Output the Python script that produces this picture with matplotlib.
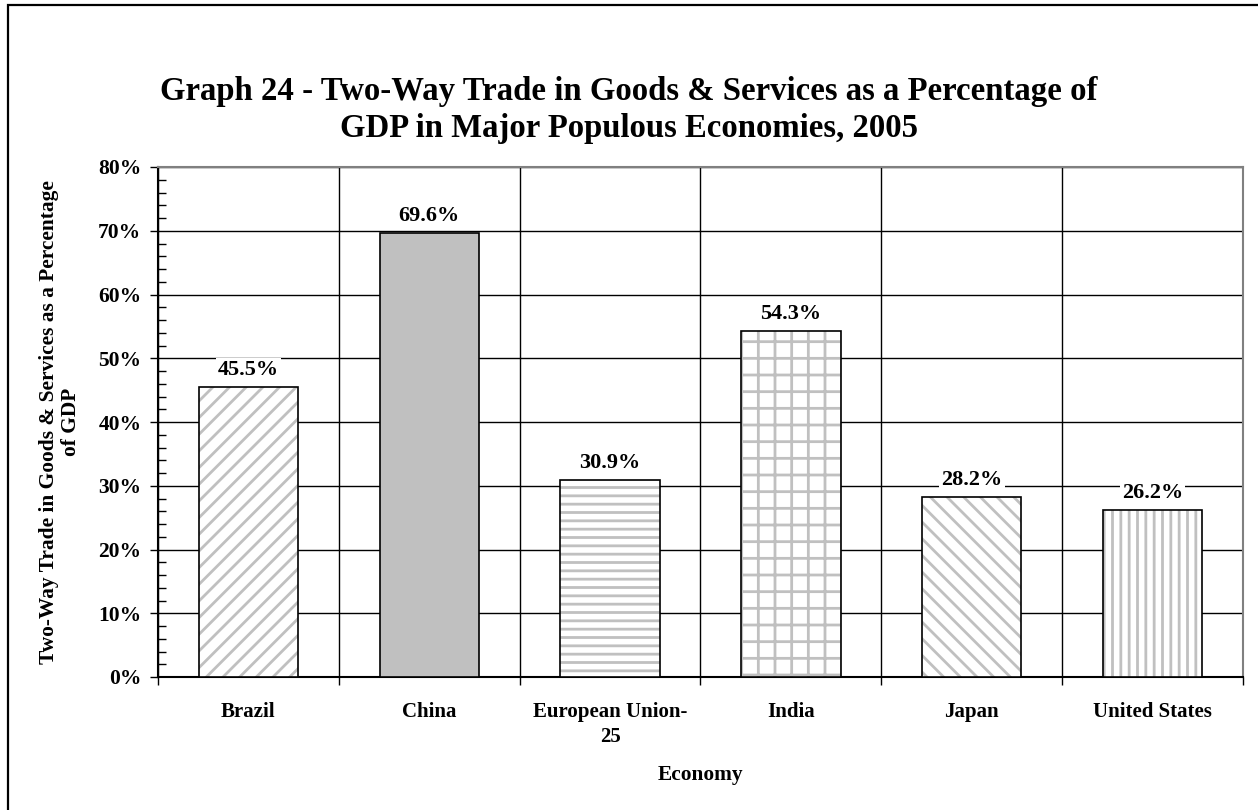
import matplotlib
matplotlib.use("Agg")
import matplotlib.pyplot as plt
import matplotlib.patches as mpatches
from matplotlib.ticker import MultipleLocator, FixedLocator, FuncFormatter

# data
economies = ["Brazil", "China", "European Union-\n25", "India", "Japan", "United States"]
tradeShare = [45.5, 69.6, 30.9, 54.3, 28.2, 26.2]
hatches = ["//", "", "--", "+", "\\\\", "||"]

plt.rcParams['font.family'] = ['Liberation Serif', 'DejaVu Serif']
plt.rcParams['font.weight'] = 'bold'
plt.rcParams['hatch.linewidth'] = 2.0

W, H = 1258, 810
fig = plt.figure(figsize=(W / 100, H / 100), dpi=100)

# outer frame (cut off at right and bottom like the source)
fig.patches.append(mpatches.Rectangle((8 / W, -0.02), 1.1, (H - 5) / H + 0.02,
                                      transform=fig.transFigure, fill=False,
                                      edgecolor='black', linewidth=1.6))

left, right, top, bottom = 158, 1243, 167, 677
ax = fig.add_axes([left / W, (H - bottom) / H, (right - left) / W, (bottom - top) / H])

x = list(range(len(economies)))
gray = '#c0c0c0'
for i, v in enumerate(tradeShare):
    if hatches[i]:
        ax.bar(x[i], v, width=0.55, color='white', edgecolor=gray,
               hatch=hatches[i], linewidth=0, zorder=3)
    else:
        ax.bar(x[i], v, width=0.55, color=gray, linewidth=0, zorder=3)
ax.bar(x, tradeShare, width=0.55, fill=False, edgecolor='black', linewidth=1.2, zorder=4)

for i, v in enumerate(tradeShare):
    ax.annotate("%.1f%%" % v, (x[i], v), xytext=(0, 5), textcoords='offset points',
                ha='center', va='bottom', fontsize=16, fontweight='bold', zorder=5,
                bbox=dict(boxstyle='square,pad=0.1', facecolor='white', edgecolor='none'))

ax.set_xlim(-0.5, len(economies) - 0.5)
ax.set_ylim(0, 80)

ax.yaxis.set_major_locator(MultipleLocator(10))
ax.yaxis.set_minor_locator(MultipleLocator(2))
ax.yaxis.set_major_formatter(FuncFormatter(lambda v, p: "%d%%" % v))
ax.tick_params(axis='y', which='major', direction='out', length=6, width=1,
               labelsize=15.5, pad=6)
ax.tick_params(axis='y', which='minor', direction='in', length=6, width=1)

ax.set_xticks(x)
ax.set_xticklabels(economies, fontsize=15, fontweight='bold', linespacing=1.3)
ax.xaxis.set_minor_locator(FixedLocator([i + 0.5 for i in x[:-1]] + [-0.5, len(x) - 0.5]))
ax.tick_params(axis='x', which='major', length=0, pad=18)
ax.tick_params(axis='x', which='minor', direction='out', length=6, width=1)

ax.grid(axis='y', which='major', color='black', linewidth=1, zorder=1)
ax.grid(axis='x', which='minor', color='black', linewidth=1, zorder=1)
ax.set_axisbelow(True)

for s in ['top', 'right']:
    ax.spines[s].set_color('#808080')
    ax.spines[s].set_linewidth(1.5)
for s in ['left', 'bottom']:
    ax.spines[s].set_color('black')
    ax.spines[s].set_linewidth(1.5)

ax.set_xlabel("Economy", fontsize=15.4, fontweight='bold', labelpad=13)
ax.set_ylabel("Two-Way Trade in Goods & Services as a Percentage\nof GDP",
              fontsize=15.4, fontweight='bold', labelpad=12, linespacing=1.17)

fig.text(0.5, 1 - 110 / H, "Graph 24 - Two-Way Trade in Goods & Services as a Percentage of\n"
         "GDP in Major Populous Economies, 2005", ha='center', va='center',
         fontsize=23.6, fontweight='bold', linespacing=1.27)

fig.savefig("out.png", dpi=100)
